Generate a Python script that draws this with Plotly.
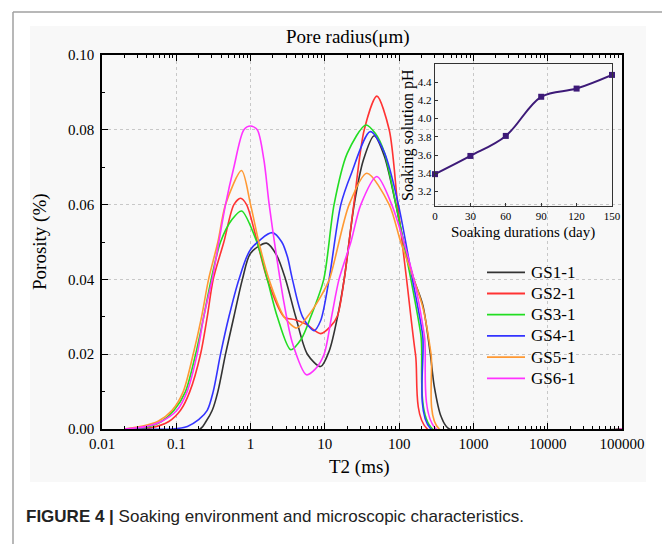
import plotly.graph_objects as go

# ---------------- data ----------------
series_names = ["GS1-1", "GS2-1", "GS3-1", "GS4-1", "GS5-1", "GS6-1"]

t2_gs1 = [0.02, 0.209, 0.251, 0.305, 0.363, 0.460, 0.596, 0.776, 1.0, 1.64, 2.24, 2.96, 4.05, 5.82, 8.79,
          11.5, 14.8, 18.2, 24.8, 33.1, 46.1, 63.1, 90.4, 115, 158, 209, 263, 297, 366, 473, 100000]
por_gs1 = [0, 0, 0.002, 0.005, 0.010, 0.020, 0.030, 0.040, 0.047, 0.0497, 0.0465, 0.040, 0.030, 0.020, 0.0167,
           0.021, 0.030, 0.040, 0.060, 0.072, 0.0784, 0.073, 0.060, 0.050, 0.040, 0.033, 0.020, 0.0114, 0.0034, 0, 0]

t2_gs2 = [0.02, 0.0447, 0.0794, 0.114, 0.152, 0.212, 0.261, 0.314, 0.437, 0.596, 0.733, 0.883, 1.23, 1.68, 2.82,
          3.98, 5.62, 8.79, 12.0, 14.8, 18.2, 24.5, 33.9, 50.1, 73.5, 95.5, 126, 166, 240, 100000]
por_gs2 = [0, 0.0003, 0.002, 0.005, 0.010, 0.020, 0.030, 0.040, 0.050, 0.060, 0.0617, 0.060, 0.050, 0.040, 0.030,
           0.0292, 0.0280, 0.0255, 0.0275, 0.0303, 0.040, 0.060, 0.080, 0.089, 0.080, 0.060, 0.040, 0.020, 0, 0]

t2_gs3 = [0.02, 0.0398, 0.0631, 0.0933, 0.133, 0.182, 0.234, 0.295, 0.394, 0.562, 0.757, 1.23, 1.68, 2.29, 3.47,
          4.79, 6.46, 9.66, 13.3, 20.0, 35.6, 47.9, 63.1, 90.4, 144, 196, 282, 100000]
por_gs3 = [0, 0.0005, 0.002, 0.005, 0.010, 0.020, 0.030, 0.040, 0.050, 0.056, 0.0583, 0.0497, 0.040, 0.030, 0.0212,
           0.024, 0.030, 0.040, 0.060, 0.0737, 0.0813, 0.079, 0.074, 0.060, 0.040, 0.0252, 0, 0]

t2_gs4 = [0.02, 0.0891, 0.141, 0.200, 0.261, 0.314, 0.394, 0.511, 0.697, 1.0, 1.96, 2.63, 3.13, 3.66, 5.01,
          7.14, 8.79, 11.4, 16.4, 22.4, 40.7, 63.1, 97.7, 151, 207, 269, 100000]
por_gs4 = [0, 0, 0.0007, 0.0025, 0.005, 0.010, 0.020, 0.030, 0.040, 0.048, 0.0525, 0.050, 0.0461, 0.040, 0.030,
           0.0263, 0.029, 0.040, 0.060, 0.068, 0.0795, 0.074, 0.060, 0.040, 0.0252, 0, 0]

t2_gs5 = [0.02, 0.0355, 0.0562, 0.0879, 0.124, 0.169, 0.219, 0.272, 0.363, 0.460, 0.757, 1.0, 1.29, 1.77, 2.82,
          4.18, 5.82, 8.79, 11.5, 21.2, 36.7, 73.5, 105, 158, 207, 269, 347, 100000]
por_gs5 = [0, 0.0008, 0.002, 0.005, 0.010, 0.020, 0.030, 0.040, 0.050, 0.060, 0.0691, 0.060, 0.050, 0.040, 0.030,
           0.027, 0.030, 0.0354, 0.040, 0.060, 0.0684, 0.060, 0.050, 0.040, 0.0328, 0.020, 0, 0]

t2_gs6 = [0.02, 0.0398, 0.0631, 0.102, 0.140, 0.191, 0.234, 0.305, 0.374, 0.460, 0.596, 0.813, 1.0, 1.23, 1.51,
          1.77, 2.17, 2.82, 3.66, 5.65, 7.41, 9.77, 12.3, 15.5, 22.4, 30.5, 50.1, 79.4, 158, 218, 316, 100000]
por_gs6 = [0, 0.0007, 0.002, 0.005, 0.010, 0.020, 0.030, 0.040, 0.050, 0.060, 0.070, 0.080, 0.081, 0.080, 0.072,
           0.0604, 0.0479, 0.0337, 0.023, 0.0145, 0.016, 0.020, 0.030, 0.040, 0.050, 0.060, 0.0675, 0.060, 0.040,
           0.0252, 0, 0]

soak_days = [0, 30, 60, 90, 120, 150]
soak_ph = [3.39, 3.59, 3.81, 4.24, 4.33, 4.48]

x_tickvals = [0.01, 0.1, 1, 10, 100, 1000, 10000, 100000]
x_ticktext = ["0.01", "0.1", "1", "10", "100", "1000", "10000", "100000"]
y_tickvals = [0.00, 0.02, 0.04, 0.06, 0.08, 0.10]
y_ticktext = ["0.00", "0.02", "0.04", "0.06", "0.08", "0.10"]
inset_x_ticks = [0, 30, 60, 90, 120, 150]
inset_y_ticks = [3.2, 3.4, 3.6, 3.8, 4.0, 4.2, 4.4]

# ---------------- styling ----------------
colors = ["#333333", "#ff3333", "#22dd22", "#3333ff", "#ff9933", "#ff33ff"]
SERIF = "Liberation Serif"
SANS = "Liberation Sans"

W, H = 662, 544
L, R, T, B = 102, 622, 55, 429


def px(x):
    return (x - L) / (R - L)


def py(y):
    return (B - y) / (B - T)


fig = go.Figure()

series_x = [t2_gs1, t2_gs2, t2_gs3, t2_gs4, t2_gs5, t2_gs6]
series_y = [por_gs1, por_gs2, por_gs3, por_gs4, por_gs5, por_gs6]
for name, xs, ys, c in zip(series_names, series_x, series_y, colors):
    fig.add_trace(go.Scatter(
        x=xs, y=ys, name=name, mode="lines", showlegend=False,
        line=dict(color=c, width=1.6, shape="spline", smoothing=0.8),
        xaxis="x", yaxis="y",
    ))

fig.add_trace(go.Scatter(
    x=soak_days, y=soak_ph, mode="lines+markers", showlegend=False,
    line=dict(color="#3d1a78", width=2, shape="spline", smoothing=1.0),
    marker=dict(symbol="square", size=6, color="#3d1a78"),
    cliponaxis=False, xaxis="x2", yaxis="y2",
))

minor_x = [m * 10.0 ** e for e in range(-2, 5) for m in range(2, 10)]

fig.update_layout(
    width=W, height=H, autosize=False,
    margin=dict(l=L, r=W - R, t=T, b=H - B, pad=0),
    paper_bgcolor="white",
    plot_bgcolor="rgba(0,0,0,0)",
    font=dict(family=SERIF, color="black", size=15),
    xaxis=dict(
        type="log", range=[-2, 5], tickmode="array", tickvals=x_tickvals, ticktext=x_ticktext,
        ticks="inside", ticklen=6, tickwidth=1.3, tickcolor="black",
        showline=True, linecolor="black", linewidth=1.6, mirror="ticks",
        showgrid=True, gridcolor="#c8c8c8", griddash="dot", gridwidth=1, zeroline=False,
        minor=dict(tickmode="array", tickvals=minor_x, ticks="inside", ticklen=3,
                   tickcolor="black", tickwidth=1, showgrid=False),
        tickfont=dict(family=SERIF, size=15, color="black"),
    ),
    yaxis=dict(
        range=[0, 0.1], tickmode="array", tickvals=y_tickvals, ticktext=y_ticktext,
        ticks="inside", ticklen=6, tickwidth=1.3, tickcolor="black",
        showline=True, linecolor="black", linewidth=1.6, mirror=True,
        showgrid=True, gridcolor="#c8c8c8", griddash="dot", gridwidth=1, zeroline=False,
        minor=dict(tickmode="array", tickvals=[0.01, 0.03, 0.05, 0.07, 0.09], ticks="inside",
                   ticklen=3, tickcolor="black", tickwidth=1, showgrid=False),
        tickfont=dict(family=SERIF, size=15, color="black"),
        ticklabelstandoff=3,
    ),
    xaxis2=dict(
        domain=[px(435), px(612)], anchor="y2", range=[0, 150],
        tickmode="array", tickvals=inset_x_ticks,
        ticks="inside", ticklen=3, tickcolor="#333",
        showline=True, linecolor="#333", linewidth=1.4, mirror=True,
        showgrid=False, zeroline=False,
        tickfont=dict(family=SERIF, size=11, color="black"),
    ),
    yaxis2=dict(
        domain=[py(206), py(64)], anchor="x2", range=[3.04, 4.6],
        tickmode="array", tickvals=inset_y_ticks, tickformat=".1f",
        ticks="inside", ticklen=3, tickcolor="#333",
        showline=True, linecolor="#333", linewidth=1.4, mirror=True,
        showgrid=False, zeroline=False,
        tickfont=dict(family=SERIF, size=11, color="black"),
    ),
    showlegend=False,
)

# background panel and frame
fig.add_shape(type="rect", xref="paper", yref="paper", layer="below",
              x0=px(30), x1=px(646), y0=py(482), y1=py(26),
              fillcolor="#f8f8f8", line=dict(width=0))
fig.add_shape(type="line", xref="paper", yref="paper",
              x0=px(13), x1=px(662), y0=py(12), y1=py(12),
              line=dict(color="#a0a0a0", width=1.5))
fig.add_shape(type="line", xref="paper", yref="paper",
              x0=px(13), x1=px(13), y0=py(12), y1=py(544),
              line=dict(color="#a0a0a0", width=1.5))

# legend (samples + labels)
LEG_X0, LEG_X1, LEG_TX, LEG_Y0, LEG_DY = 487, 525, 529, 272.3, 21.2
for i, (name, c) in enumerate(zip(series_names, colors)):
    yy = LEG_Y0 + LEG_DY * i
    fig.add_shape(type="line", xref="paper", yref="paper",
                  x0=px(LEG_X0), x1=px(LEG_X1), y0=py(yy), y1=py(yy),
                  line=dict(color=c, width=1.8))
    fig.add_annotation(xref="paper", yref="paper", x=px(LEG_TX), y=py(yy), xanchor="left",
                       yanchor="middle", showarrow=False, text=name,
                       font=dict(family=SERIF, size=17, color="black"))

annots = [
    dict(x=px(348), y=py(37), text="Pore radius(μm)", font=dict(family=SERIF, size=19, color="black")),
    dict(x=px(359), y=py(467), text="T2 (ms)", font=dict(family=SERIF, size=19, color="black")),
    dict(x=px(40), y=py(242), text="Porosity (%)", textangle=-90,
         font=dict(family=SERIF, size=19, color="black")),
    dict(x=px(408), y=py(135), text="Soaking solution pH", textangle=-90,
         font=dict(family=SERIF, size=16, color="black")),
    dict(x=px(523), y=py(232), text="Soaking durations (day)",
         font=dict(family=SERIF, size=15, color="black")),
    dict(x=px(24), y=py(516), xanchor="left",
         text="<b>FIGURE 4 |</b> Soaking environment and microscopic characteristics.",
         font=dict(family=SANS, size=17, color="#222222")),
]
for a in annots:
    a.setdefault("xanchor", "center")
    fig.add_annotation(xref="paper", yref="paper", yanchor="middle", showarrow=False, **a)

fig.write_html("out.html", config={"displayModeBar": False},
               post_script="document.body.style.margin='0px';")
